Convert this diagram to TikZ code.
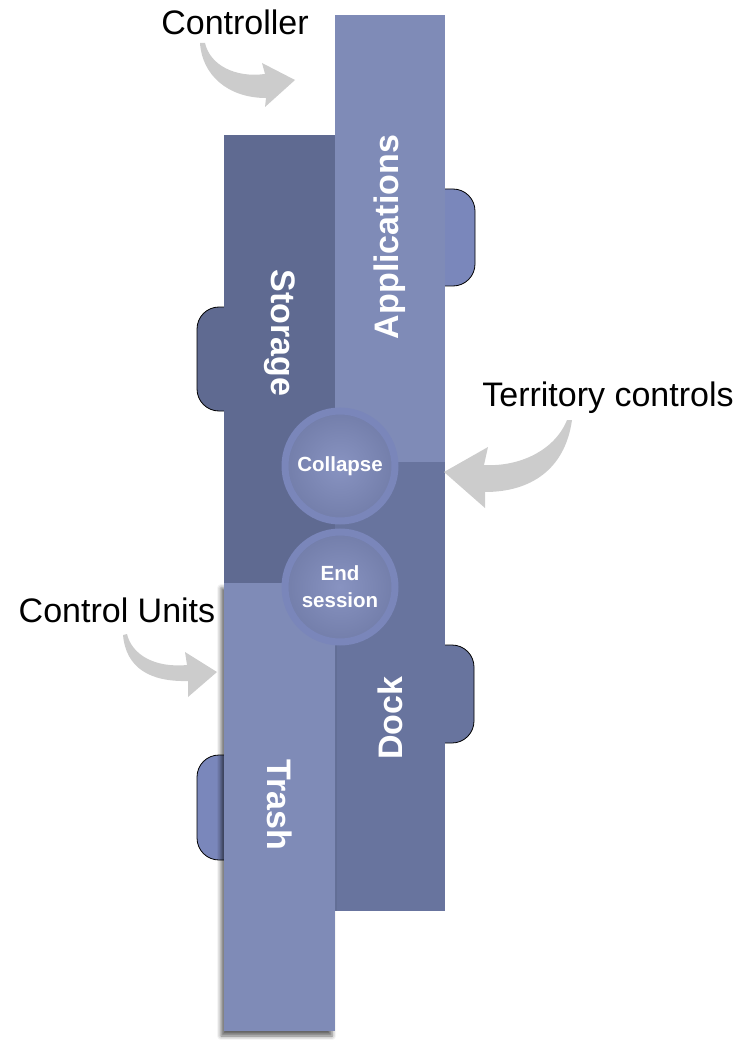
\documentclass[tikz,border=0pt]{standalone}
\usepackage{fontspec}
\setmainfont{Liberation Sans}
\usetikzlibrary{shadows.blur}

\definecolor{lightPanel}{HTML}{7F8BB7}
\definecolor{storagePanel}{HTML}{5F6A91}
\definecolor{dockPanel}{HTML}{68749E}
\definecolor{tabBlue}{HTML}{7A87BB}
\definecolor{ringBlue}{HTML}{7A86BA}
\definecolor{knobIn}{HTML}{8893C1}
\definecolor{knobOut}{HTML}{5E6993}
\definecolor{swoosh}{HTML}{CCCCCC}

\pgfdeclareradialshading{knobshade}{\pgfpoint{0bp}{0bp}}{color(0bp)=(knobIn); color(50bp)=(knobOut)}

\tikzset{
  panel/.style={rectangle, draw=none, inner sep=0pt, outer sep=0pt, anchor=north west},
  tabshape/.style={draw=black, line width=0.8pt, rounded corners=22pt},
  panellabel/.style={text=white, font=\fontsize{34}{38}\selectfont\bfseries, inner sep=0pt},
  callout/.style={text=black, font=\fontsize{34}{38}\selectfont, inner sep=0pt, anchor=base},
  knob/.style={circle, draw=ringBlue, line width=7pt, shading=knobshade, minimum size=110pt,
    inner sep=0pt, text=white, align=center, font=\fontsize{20.5}{27}\selectfont\bfseries},
  swooshfill/.style={fill=swoosh, draw=none}
}

\begin{document}
\begin{tikzpicture}[x=1pt,y=-1pt]
\useasboundingbox (0,0) rectangle (738,1040);

% side tabs, drawn first so the panels cover their inner edges
\draw[tabshape, fill=tabBlue] (420,189) rectangle (475,286);
\draw[tabshape, fill=storagePanel] (197,307) rectangle (250,411);
\draw[tabshape, fill=dockPanel] (420,645) rectangle (474,743);
\draw[tabshape, fill=tabBlue] (197,755) rectangle (250,860);

% panels
\node[panel, fill=storagePanel, minimum width=111pt, minimum height=448pt] (storage) at (224,135) {};
\node[panel, fill=lightPanel, minimum width=110pt, minimum height=447pt] (apps) at (335,15) {};
\node[panel, fill=dockPanel, minimum width=110pt, minimum height=449pt] (dock) at (335,462) {};
\node[panel, fill=lightPanel, minimum width=111pt, minimum height=448pt,
  blur shadow={shadow xshift=-3pt, shadow yshift=-5pt, shadow blur radius=4pt, shadow opacity=60}] (trash) at (224,583) {};

% panel titles
\node[panellabel, rotate=90] (appsLabel) at (390,237) {Applications};
\node[panellabel, rotate=-90] (storageLabel) at (280,333) {Storage};
\node[panellabel, rotate=90] (dockLabel) at (390,718) {Dock};
\node[panellabel, rotate=-90] (trashLabel) at (280,805) {Trash};

% round buttons
\node[knob] (collapse) at (340,466) {Collapse};
\node[knob] (endSession) at (340,587) {End\\session};

% callout texts
\node[callout] (controller) at (235,35) {Controller};
\node[callout] (territory) at (608,406) {Territory controls};
\node[callout] (controlUnits) at (117,622) {Control Units};

% curved callout arrows
\fill[swooshfill] (200,43) .. controls (202,75) and (228,98) .. (266,98)
  -- (265,107) -- (295,80) -- (262,63) -- (265,74)
  .. controls (235,78) and (210,65) .. (205,43) -- cycle;
\fill[swooshfill] (572,420) .. controls (565,470) and (530,492) .. (485,492)
  -- (485,508) -- (444,472) -- (488,447) -- (484,465)
  .. controls (520,467) and (555,450) .. (567,420) -- cycle;
\fill[swooshfill] (123,635) .. controls (126,668) and (150,682) .. (188,681)
  -- (188,697) -- (217,672) -- (185,652) -- (187,665)
  .. controls (155,668) and (132,655) .. (127,634) -- cycle;
\end{tikzpicture}
\end{document}
